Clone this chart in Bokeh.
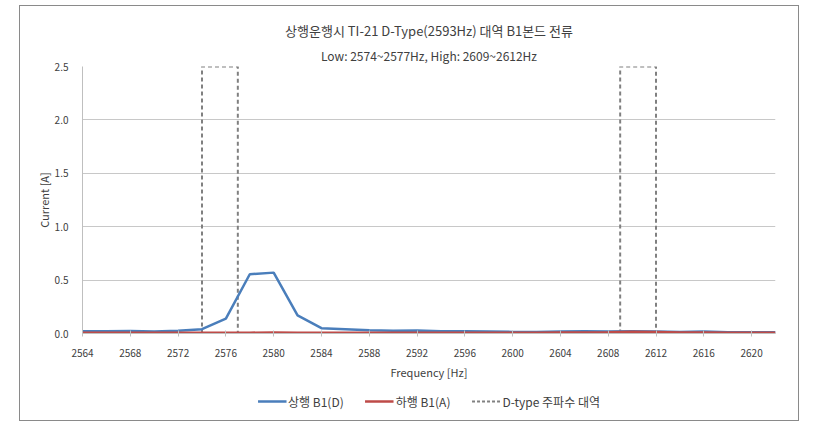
from bokeh.plotting import figure
from bokeh.models import (Range1d, FixedTicker, Legend, LegendItem, Title,
                          NumeralTickFormatter)
from bokeh.layouts import column
from bokeh.embed import file_html
from bokeh.resources import INLINE

freqs = [2564, 2566, 2568, 2570, 2572, 2574, 2576, 2578, 2580, 2582,
         2584, 2586, 2588, 2590, 2592, 2594, 2596, 2598, 2600, 2602,
         2604, 2606, 2608, 2610, 2612, 2614, 2616, 2618, 2620, 2622]
up_b1d = [0.020, 0.022, 0.024, 0.018, 0.025, 0.040, 0.140, 0.555, 0.570, 0.170,
          0.050, 0.040, 0.030, 0.025, 0.028, 0.022, 0.020, 0.018, 0.015, 0.015,
          0.018, 0.020, 0.018, 0.020, 0.018, 0.015, 0.018, 0.012, 0.012, 0.012]
down_b1a = [0.006, 0.006, 0.007, 0.006, 0.006, 0.007, 0.008, 0.008, 0.009, 0.008,
            0.007, 0.006, 0.006, 0.006, 0.006, 0.007, 0.007, 0.007, 0.008, 0.008,
            0.009, 0.010, 0.012, 0.016, 0.014, 0.010, 0.009, 0.008, 0.008, 0.008]
low_band = [2574, 2577]
high_band = [2609, 2612]
band_top = 2.5
x_ticks = list(range(2564, 2621, 4))
y_ticks = [0.0, 0.5, 1.0, 1.5, 2.0, 2.5]

title1 = "상행운행시 TI-21 D-Type(2593Hz) 대역 B1본드 전류"
title2 = "Low: 2574~2577Hz, High: 2609~2612Hz"
FONT = "Noto Sans CJK KR"
TXT = "#404040"
BLUE, RED, GRAY = "#4a7ebb", "#be4b48", "#808080"

bx = [[b[0], b[0], b[1], b[1]] for b in (low_band, high_band)]
by = [[0, band_top, band_top, 0] for _ in (low_band, high_band)]

p = figure(width=778, height=376, output_backend="svg", toolbar_location=None,
           x_range=Range1d(2564, 2622), y_range=Range1d(0, 2.5),
           min_border_left=62, min_border_right=23, min_border_top=60,
           min_border_bottom=48, title=None)
p.outline_line_color = None
p.background_fill_color = "white"
p.border_fill_color = "white"

t2 = Title(text=title2, align="center", text_font=FONT, text_font_size="12px",
           text_font_style="normal", text_color=TXT, standoff=6)
t1 = Title(text=title1, align="center", text_font=FONT, text_font_size="13px",
           text_font_style="normal", text_color=TXT, standoff=4)
p.add_layout(t2, "above")
p.add_layout(t1, "above")

p.xaxis.ticker = FixedTicker(ticks=x_ticks)
p.yaxis.ticker = FixedTicker(ticks=y_ticks)
p.yaxis.formatter = NumeralTickFormatter(format="0.0")
for ax in (p.xaxis[0], p.yaxis[0]):
    ax.axis_line_color = "#bfbfbf"
    ax.major_tick_line_color = "#bfbfbf"
    ax.minor_tick_line_color = None
    ax.major_label_text_font = FONT
    ax.major_label_text_font_size = "10px"
    ax.major_label_text_color = TXT
    ax.axis_label_text_font = FONT
    ax.axis_label_text_font_size = "11px"
    ax.axis_label_text_font_style = "normal"
    ax.axis_label_text_color = TXT
p.xaxis.major_tick_in = 3
p.xaxis.major_tick_out = 3
p.yaxis.major_tick_in = 0
p.yaxis.major_tick_out = 0
p.xaxis.axis_label = "Frequency [Hz]"
p.yaxis.axis_label = "Current [A]"
p.xaxis.axis_label_standoff = 4
p.yaxis.axis_label_standoff = 0
p.xaxis.major_label_standoff = 12
p.yaxis.major_label_standoff = 14
p.xgrid.grid_line_color = None
p.ygrid.grid_line_color = "#c8c8c8"

p.multi_line(bx, by, line_color=GRAY, line_width=2, line_dash="4 3")
p.line(freqs, up_b1d, line_color=BLUE, line_width=2.5)
p.line(freqs, down_b1a, line_color=RED, line_width=2.5)

# legend strip (separate canvas below the plot; its renderers are hidden)
lf = figure(width=778, height=38, output_backend="svg", toolbar_location=None,
            x_range=Range1d(2564, 2622), y_range=Range1d(0, 2.5),
            min_border=0, title=None)
lf.axis.visible = False
lf.grid.visible = False
lf.outline_line_color = None
lf.border_fill_color = "white"
lr_up = lf.line(freqs, up_b1d, line_color=BLUE, line_width=2.5, visible=False)
lr_dn = lf.line(freqs, down_b1a, line_color=RED, line_width=2.5, visible=False)
lr_band = lf.multi_line(bx, by, line_color=GRAY, line_width=2, line_dash="3 2",
                        visible=False)
legend = Legend(items=[LegendItem(label="상행 B1(D)", renderers=[lr_up]),
                       LegendItem(label="하행 B1(A)", renderers=[lr_dn]),
                       LegendItem(label="D-type 주파수 대역", renderers=[lr_band])],
                orientation="horizontal", location="center",
                label_text_font=FONT, label_text_font_size="12px",
                label_text_color=TXT, border_line_color=None,
                background_fill_alpha=0, inactive_fill_alpha=0,
                glyph_width=29, spacing=21, padding=2, margin=0,
                label_standoff=2)
lf.add_layout(legend, "center")

layout = column(p, lf, spacing=0,
                styles={"border": "1px solid #8a8a8a",
                        "margin-left": "19px", "margin-top": "5px"})
open("out.html", "w").write(file_html(layout, INLINE))
